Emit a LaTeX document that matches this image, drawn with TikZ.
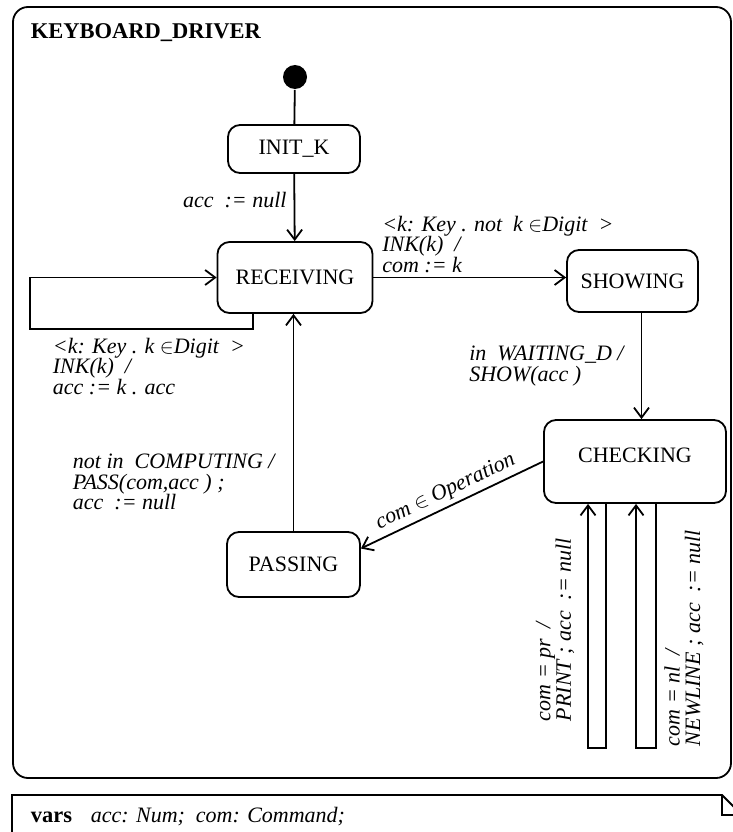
\documentclass[tikz,border=0pt]{standalone}
\usepackage{fontspec}
\setmainfont{Liberation Serif}
\usetikzlibrary{arrows.meta}

\begin{document}
\begin{tikzpicture}[x=1pt,y=-1pt,line width=1.8pt,
    state/.style={draw,rounded corners=12pt,inner sep=0pt,font=\fontsize{22}{23}\selectfont},
    lbl/.style={font=\fontsize{22}{20.5}\selectfont\itshape,align=left,inner sep=0pt},
    bold/.style={font=\fontsize{22.5}{23}\selectfont\bfseries,inner sep=0pt},
    trans/.style={-{Straight Barb[length=10pt,width=15pt]}}]
              \useasboundingbox (0,0) rectangle (732,832);
              \draw[rounded corners=15pt](13,7)rectangle(731,778);
              \node[bold,anchor=west](title)at(30,33){KEYBOARD\_DRIVER};
              % states
              \node[circle,fill,inner sep=0pt,minimum size=24pt](start)at(295,77){};
              \node[state,minimum width=132pt,minimum height=48pt](initk)at(294,149){INIT\_K};
              \node[state,minimum width=155pt,minimum height=71pt](recv)at(295,277.5){RECEIVING};
              \node[state,minimum width=131pt,minimum height=62pt](show)at(632.5,281){SHOWING};
              \node[state,minimum width=182pt,minimum height=83pt,text depth=12pt](check)at(635,461.5){CHECKING};
              \node[state,minimum width=133pt,minimum height=65pt](pass)at(293.5,564.5){PASSING};
              % transitions
              \draw(start)--(initk);
              \draw[trans](initk)--(recv) node[lbl,pos=0.39,anchor=east,xshift=-7pt]{acc\ \ := null};
              \draw[trans](recv)--(recv-|show.west) node[lbl,pos=0,anchor=south west,xshift=8pt,yshift=4pt]{<k: Key . not\ \ k $\in$Digit\ \ >\\INK(k)\ \ /\\com := k};
              \draw[trans]([xshift=9pt]show.south)--([xshift=9pt]show.south|-check.north) node[lbl,midway,anchor=east,xshift=-17pt]{in\ \ WAITING\_D /\\SHOW(acc )};
              \draw[trans](check.west)--([yshift=16pt]pass.east) node[lbl,midway,sloped,above=4pt]{com $\in$ Operation};
              \draw[trans](pass)--(pass|-recv.south);
              \node[lbl,anchor=west](passl)at(72,482){not in\ \ COMPUTING /\\PASS(com,acc ) ;\\acc\ \ := null};
              \draw[trans]([xshift=-42pt]recv.south)--++(0,15)-|([xshift=-187pt]recv.west)--(recv.west);
              \node[lbl,anchor=north west](digitl)at(52,337){<k: Key . k $\in$Digit\ \ >\\INK(k)\ \ /\\acc := k . acc};
              \draw[trans]([xshift=-29pt]check.south)--++(0,244)-|([xshift=-47pt]check.south);
              \draw[trans]([xshift=21pt]check.south)--++(0,244)-|([xshift=1pt]check.south);
              \node[lbl,rotate=90,anchor=west](printl)at(555,722){com = pr\ \ /\\PRINT ; acc\ \ := null};
              \node[lbl,rotate=90,anchor=west](newl)at(684,747){com = nl\ \ /\\NEWLINE ; acc\ \ := null};
              % variables note
              \draw(12,840)--(12,795)--(722,795)--(742,815)--(742,840);
              \draw(722,795)--(722,815)--(742,815);
              \node[bold,anchor=west](vars)at(30,817){vars};
              \node[lbl,anchor=west](decl)at(90,817){acc: Num;\ \ com: Command;};
            \end{tikzpicture}
\end{document}
